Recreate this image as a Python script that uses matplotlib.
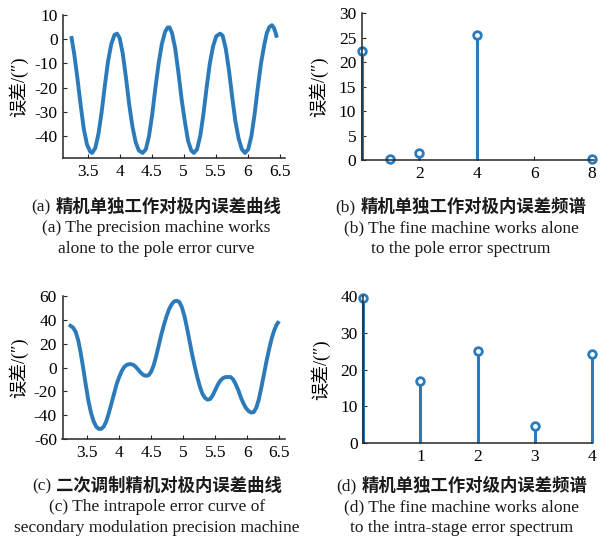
import matplotlib
matplotlib.use("Agg")
import matplotlib.pyplot as plt

plt.rcParams['font.family'] = ['Liberation Serif', 'Noto Sans CJK SC', 'DejaVu Sans']
plt.rcParams['axes.unicode_minus'] = False

# ---------------- data ----------------
# (a) precision machine alone, intra-pole error curve
a_x = [3.25, 3.29, 3.34, 3.39, 3.44, 3.49, 3.54, 3.57, 3.62, 3.67, 3.72, 3.77, 3.82,
       3.87, 3.92, 3.96, 4.00, 4.05, 4.10, 4.15, 4.20, 4.25, 4.30, 4.36, 4.41, 4.46,
       4.51, 4.56, 4.61, 4.66, 4.71, 4.75, 4.78, 4.82, 4.87, 4.92, 4.97, 5.02, 5.07,
       5.12, 5.16, 5.21, 5.26, 5.31, 5.36, 5.41, 5.46, 5.51, 5.57, 5.61, 5.66, 5.71,
       5.76, 5.81, 5.86, 5.91, 5.96, 6.01, 6.06, 6.11, 6.16, 6.21, 6.26, 6.30, 6.34,
       6.38, 6.41, 6.44, 6.45]
a_y = [0.5, -6, -16, -27, -37, -43.5, -46.5, -47, -45, -39, -30, -19, -9,
       -2, 1.8, 2.3, 0.5, -6, -16, -27, -36, -42.5, -46, -47, -45.5, -40,
       -31, -20, -10, -2, 3, 4.8, 4.9, 2.5, -4, -14, -25, -34, -42,
       -46, -47, -45.5, -40, -31, -20, -10, -3, 1.2, 2.3, 1.5, -4, -13,
       -24, -34, -41, -45.5, -47, -45.5, -40, -31, -20, -10, -2.5, 2.5, 5,
       5.8, 4.8, 2.5, 1.4]

# (b) intra-pole error spectrum
b_x = [0, 1, 2, 4, 8]
b_y = [22.2, 0.2, 1.4, 25.6, 0.2]

# (c) secondary modulation precision machine, intra-pole error curve
c_x = [3.24, 3.28, 3.32, 3.36, 3.40, 3.44, 3.48, 3.52, 3.56, 3.60, 3.64, 3.68, 3.72,
       3.76, 3.80, 3.84, 3.88, 3.92, 3.96, 4.00, 4.04, 4.08, 4.12, 4.17, 4.22, 4.26,
       4.30, 4.34, 4.38, 4.42, 4.46, 4.50, 4.54, 4.58, 4.62, 4.66, 4.70, 4.74, 4.78,
       4.82, 4.86, 4.90, 4.94, 4.98, 5.02, 5.06, 5.10, 5.14, 5.18, 5.22, 5.26, 5.30,
       5.34, 5.38, 5.42, 5.46, 5.50, 5.54, 5.58, 5.62, 5.66, 5.70, 5.74, 5.78, 5.82,
       5.86, 5.90, 5.94, 5.98, 6.02, 6.06, 6.10, 6.14, 6.18, 6.22, 6.26, 6.30, 6.34,
       6.38, 6.42, 6.46, 6.48]
c_y = [35, 33.5, 30, 23, 12, -1, -15, -28, -38, -45, -49.5, -51.5, -51.5,
       -49.5, -45, -38, -30, -22, -14, -8, -3, 0.5, 2.3, 2.9, 2.3, 0.5,
       -2, -4.5, -6.3, -7, -6.5, -3.5, 2, 10, 19, 28, 36, 43, 49,
       53, 55.5, 56, 55, 50.5, 43, 33, 22, 11, 1, -8, -16, -22,
       -25.5, -27, -26.5, -23.5, -19, -14.5, -11, -9, -8, -8, -8, -10, -14,
       -19, -25, -30, -34, -36.5, -37.8, -37.5, -34, -27, -17, -6, 5, 15,
       24, 31, 36, 37.5]

# (d) intra-stage error spectrum
d_x = [0, 1, 2, 3, 4]
d_y = [39.4, 16.9, 25.2, 4.6, 24.3]

a_xticks = [3.5, 4, 4.5, 5, 5.5, 6, 6.5]
a_xlabels = ['3.5', '4', '4.5', '5', '5.5', '6', '6.5']
a_yticks = [-40, -30, -20, -10, 0, 10]
b_xticks = [2, 4, 6, 8]
b_yticks = [0, 5, 10, 15, 20, 25, 30]
c_yticks = [-60, -40, -20, 0, 20, 40, 60]
d_xticks = [1, 2, 3, 4]
d_yticks = [0, 10, 20, 30, 40]

ylabel = '误差/(″)'
captions = {
    'a': ['(a)', '精机单独工作对极内误差曲线', '(a) The precision machine works', 'alone to the pole error curve'],
    'b': ['(b)', '精机单独工作对极内误差频谱', '(b) The fine machine works alone', 'to the pole error spectrum'],
    'c': ['(c)', '二次调制精机对极内误差曲线', '(c) The intrapole error curve of', 'secondary modulation precision machine'],
    'd': ['(d)', '精机单独工作对级内误差频谱', '(d) The fine machine works alone', 'to the intra-stage error spectrum'],
}

# ---------------- figure ----------------
W, H = 613, 537
fig = plt.figure(figsize=(W / 100, H / 100), dpi=100)
BLUE = '#2B7BBA'
SPINE = '#262626'
TXT = '#1a1a1a'


def px_axes(l, r, t, b):
    return fig.add_axes([l / W, 1 - b / H, (r - l) / W, (b - t) / H])


def style(ax, lab_x):
    for s in ['top', 'right']:
        ax.spines[s].set_visible(False)
    for s in ['left', 'bottom']:
        ax.spines[s].set_color(SPINE)
        ax.spines[s].set_linewidth(1.1)
    ax.tick_params(direction='in', length=3, width=0.8, color=SPINE,
                   labelsize=12.5, pad=4)
    ax.set_ylabel(ylabel, fontsize=13)
    ax.yaxis.set_label_coords(lab_x, 0.5)


def stems(ax, x, y):
    ml, sl, bl = ax.stem(x, y, basefmt=' ')
    plt.setp(sl, color=BLUE, lw=2.2, clip_on=False)
    plt.setp(ml, color=BLUE, marker='o', ms=5.5, mfc='white', mew=2.0, clip_on=False)


ax_a = px_axes(63.3, 285, 15, 158)
ax_a.plot(a_x, a_y, color=BLUE, lw=2.8)
ax_a.set_xlim(3.12, 6.585)
ax_a.set_ylim(-49.1, 10)
ax_a.set_xticks(a_xticks)
ax_a.set_xticklabels(a_xlabels)
ax_a.set_yticks(a_yticks)
style(ax_a, -0.16)

ax_b = px_axes(361.7, 594, 13.3, 160)
stems(ax_b, b_x, b_y)
ax_b.set_xlim(0, 8.07)
ax_b.set_ylim(0, 30)
ax_b.set_xticks(b_xticks)
ax_b.set_yticks(b_yticks)
style(ax_b, -0.146)

ax_c = px_axes(62.5, 285, 296, 439)
ax_c.plot(c_x, c_y, color=BLUE, lw=2.8)
ax_c.set_xlim(3.115, 6.59)
ax_c.set_ylim(-60, 60)
ax_c.set_xticks(a_xticks)
ax_c.set_xticklabels(a_xlabels)
ax_c.set_yticks(c_yticks)
style(ax_c, -0.155)

ax_d = px_axes(363.3, 592, 296, 443.3)
stems(ax_d, d_x, d_y)
ax_d.set_xlim(0, 4.005)
ax_d.set_ylim(0, 40)
ax_d.set_xticks(d_xticks)
ax_d.set_yticks(d_yticks)
style(ax_d, -0.144)

# captions
cap_pos = {'a': (156, 207), 'b': (461, 207), 'c': (157, 486), 'd': (462, 486)}
fig.canvas.draw()
renderer = fig.canvas.get_renderer()
GAP = 5
for k, (cx, cy) in cap_pos.items():
    pre, cjk, l2, l3 = captions[k]
    t1 = fig.text(0, 1 - cy / H, pre, ha='left', va='center', fontsize=12.5, color=TXT)
    t2 = fig.text(0, 1 - cy / H, cjk, ha='left', va='center', fontsize=12.5,
                  fontweight='bold', color=TXT, family=['Noto Sans CJK SC', 'DejaVu Sans'])
    w1 = t1.get_window_extent(renderer).width
    w2 = t2.get_window_extent(renderer).width
    left = cx - (w1 + GAP + w2) / 2
    t1.set_x(left / W)
    t2.set_x((left + w1 + GAP) / W)
    for i, line in enumerate([l2, l3]):
        fig.text(cx / W, 1 - (cy + (i + 1) * 21) / H, line, ha='center', va='center',
                 fontsize=12.5, color=TXT)

fig.savefig('out.png', dpi=100)
